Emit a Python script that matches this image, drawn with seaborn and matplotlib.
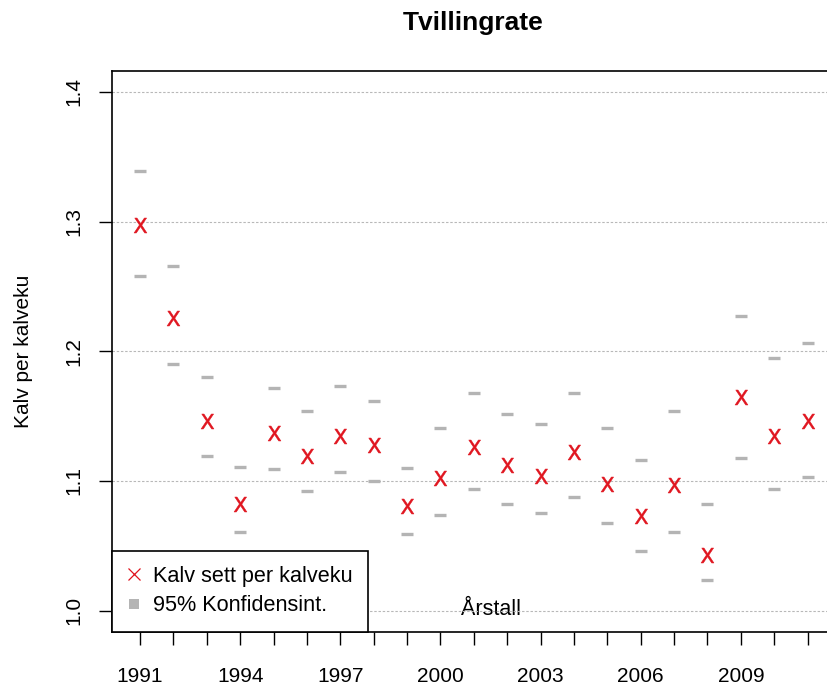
import matplotlib
matplotlib.use("Agg")
import matplotlib.pyplot as plt
from matplotlib.lines import Line2D
import numpy as np
import pandas as pd
import seaborn as sns

# Twin-calf rate per year with 95% confidence limits
years = list(range(1991, 2012))
rate = [1.297, 1.226, 1.146, 1.082, 1.137, 1.119, 1.135, 1.128, 1.081, 1.102,
        1.126, 1.112, 1.104, 1.122, 1.098, 1.073, 1.097, 1.043, 1.165, 1.135, 1.146]
upper = [1.339, 1.266, 1.180, 1.111, 1.172, 1.154, 1.173, 1.162, 1.110, 1.141,
         1.168, 1.152, 1.144, 1.168, 1.141, 1.116, 1.154, 1.082, 1.227, 1.195, 1.206]
lower = [1.258, 1.190, 1.119, 1.061, 1.109, 1.092, 1.107, 1.100, 1.059, 1.074,
         1.094, 1.082, 1.075, 1.088, 1.068, 1.046, 1.061, 1.024, 1.118, 1.094, 1.103]
y_ticks = [1.0, 1.1, 1.2, 1.3, 1.4]
x_labelled = [1991, 1994, 1997, 2000, 2003, 2006, 2009]

title = "Tvillingrate"
ylabel = "Kalv per kalveku"
xlabel = "Årstall"
legend_labels = ["Kalv sett per kalveku", "95% Konfidensint."]

RED = "#e0141e"
GREY = "#b4b4b4"

sns.set_theme(style="white")
plt.rcParams["font.family"] = ["Liberation Sans", "DejaVu Sans"]
plt.rcParams["text.color"] = "black"
plt.rcParams["axes.labelcolor"] = "black"

df = pd.DataFrame({"year": years, "rate": rate, "upper": upper, "lower": lower})

W, H = 827, 691
fig = plt.figure(figsize=(W / 100, H / 100), dpi=100)
left, right, top, bottom = 112, 869, 71, 631.5
ax = fig.add_axes([left / W, 1 - bottom / H, (right - left) / W, (bottom - top) / H])

# confidence limits as short grey dashes
for col in ["upper", "lower"]:
    sns.scatterplot(data=df, x="year", y=col, ax=ax, marker="_", s=80,
                    color=GREY, linewidth=2.4, legend=False, zorder=3)

# point estimates as red letter X
sns.scatterplot(data=df, x="year", y="rate", ax=ax, marker=r"$\mathsf{X}$", s=115,
                color=RED, linewidth=0.4, edgecolor=RED, legend=False, zorder=4)

ax.set_xlim(1990.16, 2012.84)
ax.set_ylim(0.984, 1.416)

ax.set_yticks(y_ticks)
ax.set_yticklabels([f"{v:.1f}" for v in y_ticks])
ax.set_xticks(years)
ax.set_xticklabels([str(y) if y in x_labelled else "" for y in years])

ax.tick_params(axis="both", which="major", labelsize=15, length=9.5, width=1.0,
               color="black", labelcolor="black", bottom=True, left=True)
ax.tick_params(axis="y", labelrotation=90, pad=11)
ax.tick_params(axis="x", pad=16)
for lab in ax.get_yticklabels():
    lab.set_va("center")

ax.yaxis.grid(True, linestyle=(0, (2.2, 1.6)), color="#b8b8b8", linewidth=0.8)
ax.xaxis.grid(False)
ax.set_axisbelow(True)

for sp in ax.spines.values():
    sp.set_color("black")
    sp.set_linewidth(1.2)

ax.set_ylabel(ylabel, fontsize=15, labelpad=23)
ax.set_xlabel(xlabel, fontsize=15.5)
ax.xaxis.set_label_coords(0.5, (bottom - 615) / (bottom - top))
ax.xaxis.label.set_va("baseline")

fig.text(473 / W, 1 - 23 / H, title, ha="center", va="center",
         fontsize=19, fontweight="bold")

handles = [
    Line2D([], [], linestyle="none", marker="x", color=RED, markersize=8.5,
           markeredgewidth=0.9),
    Line2D([], [], linestyle="none", marker="s", color=GREY, markersize=7.2,
           markeredgewidth=0),
]
leg = ax.legend(handles, legend_labels, loc="lower left", bbox_to_anchor=(0, 0),
                borderaxespad=0, fontsize=15.6, frameon=True, fancybox=False,
                framealpha=1, edgecolor="black", handlelength=0.6,
                handletextpad=0.6, borderpad=0.7, labelspacing=0.4)
leg.get_frame().set_linewidth(1.2)
leg.set_zorder(5)

fig.savefig("out.png", dpi=100)
